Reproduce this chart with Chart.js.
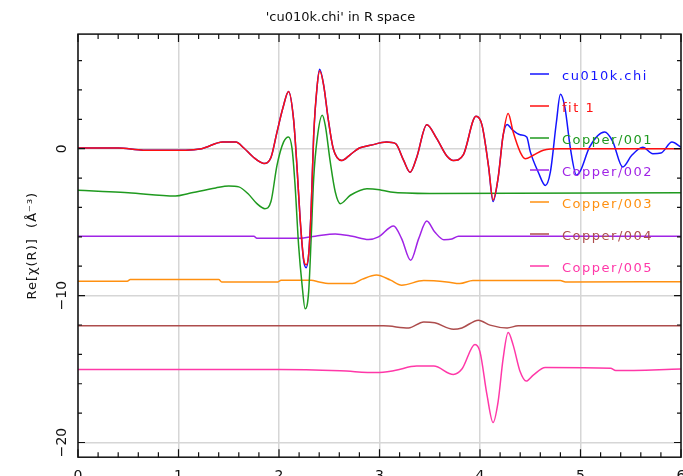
<!DOCTYPE html>
<html>
<head>
<meta charset="utf-8">
<script src="https://cdn.jsdelivr.net/npm/chart.js@4/dist/chart.umd.min.js"></script>
<style>
  html, body { margin: 0; padding: 0; background: #fff; }
  #wrap { width: 683px; height: 476px; }
</style>
</head>
<body>
<div id="wrap"><canvas id="rspace"></canvas></div>
<script>
// series labels + colours
var seriesNames = ['cu010k.chi', 'fit 1', 'Copper/001', 'Copper/002', 'Copper/003', 'Copper/004', 'Copper/005'];
var seriesColors = ['#1414ff', '#ff1010', '#1f9a1f', '#a024e6', '#ff9010', '#ad4d4d', '#ff38a8'];

// data, R in Angstrom
var dataR = [0, 0.4, 0.65, 1.07, 1.23, 1.44, 1.57, 1.65, 1.74, 1.85, 1.92, 1.98, 2.04, 2.095, 2.145, 2.18, 2.21, 2.245, 2.27, 2.295, 2.32, 2.345, 2.38, 2.405, 2.445, 2.49, 2.54, 2.625, 2.71, 2.8, 2.91, 3.07, 3.16, 3.24, 3.305, 3.37, 3.47, 3.57, 3.67, 3.735, 3.835, 3.96, 4.02, 4.085, 4.13, 4.18, 4.23, 4.27, 4.32, 4.4, 4.465, 4.5, 4.58, 4.65, 4.7, 4.76, 4.8, 4.845, 4.9, 4.96, 5.0, 5.09, 5.24, 5.32, 5.42, 5.51, 5.62, 5.72, 5.8, 5.91, 6];
var dataY = [0.05, 0.05, -0.1, -0.1, 0, 0.45, 0.45, 0.05, -0.55, -1.0, -0.6, 1.13, 2.8, 3.9, 2.0, -1.36, -4.76, -7.6, -8.1, -7.2, -4.1, 0.9, 4.3, 5.4, 4.3, 2.0, 0, -0.8, -0.4, 0.05, 0.23, 0.45, 0.34, -0.8, -1.6, -0.6, 1.63, 0.68, -0.5, -0.8, -0.4, 2.2, 1.6, -1.2, -3.6, -2.0, 0.9, 1.65, 1.3, 0.95, 0.8, -0.2, -1.6, -2.5, -1.6, 1.8, 3.7, 2.8, 0, -1.8, -1.5, 0.1, 1.13, 0.5, -1.25, -0.45, 0.1, -0.34, -0.3, 0.45, 0.1];

var fitR = [0, 0.4, 0.65, 1.07, 1.23, 1.44, 1.57, 1.65, 1.74, 1.85, 1.92, 1.98, 2.04, 2.095, 2.145, 2.18, 2.21, 2.245, 2.27, 2.295, 2.32, 2.345, 2.38, 2.405, 2.445, 2.49, 2.54, 2.625, 2.71, 2.8, 2.91, 3.07, 3.16, 3.24, 3.305, 3.37, 3.47, 3.57, 3.67, 3.735, 3.835, 3.96, 4.02, 4.085, 4.13, 4.18, 4.23, 4.28, 4.33, 4.4, 4.45, 4.53, 4.63, 4.8, 6];
var fitY = [0.05, 0.05, -0.1, -0.1, 0, 0.45, 0.45, 0.05, -0.55, -1.0, -0.6, 1.13, 2.8, 3.9, 2.0, -1.36, -4.76, -7.5, -7.9, -7.2, -4.1, 0.9, 4.3, 5.3, 4.3, 2.0, 0, -0.8, -0.4, 0.05, 0.23, 0.45, 0.34, -0.8, -1.6, -0.6, 1.63, 0.68, -0.5, -0.8, -0.4, 2.2, 1.6, -1.2, -3.5, -2.0, 0.9, 2.4, 1.13, -0.23, -0.68, -0.45, -0.1, 0, 0];

var p1R = [0, 0.2, 0.5, 0.97, 1.1, 1.37, 1.5, 1.6, 1.69, 1.78, 1.86, 1.92, 1.98, 2.045, 2.095, 2.13, 2.16, 2.195, 2.23, 2.26, 2.295, 2.32, 2.345, 2.38, 2.43, 2.46, 2.51, 2.56, 2.61, 2.71, 2.875, 3.0, 3.11, 3.5, 6];
var p1Y = [-2.83, -2.9, -3.0, -3.22, -3.05, -2.67, -2.54, -2.6, -3.05, -3.74, -4.08, -3.6, -1.13, 0.45, 0.8, 0, -2.5, -6.57, -9.3, -10.9, -9.75, -6.1, -2.04, 0.68, 2.27, 1.6, -0.9, -2.95, -3.74, -3.17, -2.72, -2.79, -2.95, -3.05, -3.0];

var p2R = [0, 1.75, 1.78, 2.2, 2.36, 2.56, 2.73, 2.89, 2.99, 3.14, 3.22, 3.31, 3.39, 3.47, 3.55, 3.64, 3.72, 3.785, 6];
var p2Y = [-5.96, -5.96, -6.1, -6.1, -5.96, -5.8, -5.96, -6.18, -6.0, -5.26, -6.12, -7.6, -6.12, -4.92, -5.67, -6.19, -6.15, -5.96, -5.96];

var p3R = [0, 0.49, 0.52, 1.4, 1.43, 1.99, 2.02, 2.32, 2.4, 2.49, 2.73, 2.83, 2.97, 3.11, 3.22, 3.44, 3.67, 3.8, 3.93, 4.8, 4.85, 6];
var p3Y = [-9.02, -9.02, -8.91, -8.91, -9.07, -9.07, -8.95, -8.95, -9.07, -9.18, -9.18, -8.88, -8.6, -8.95, -9.29, -8.98, -9.07, -9.18, -8.98, -8.98, -9.07, -9.05];

var p4R = [0, 3.04, 3.29, 3.44, 3.55, 3.735, 3.82, 3.985, 4.1, 4.27, 4.38, 6];
var p4Y = [-12.06, -12.06, -12.2, -11.79, -11.85, -12.29, -12.2, -11.67, -12.01, -12.2, -12.06, -12.06];

var p5R = [0, 2.0, 2.61, 2.97, 3.15, 3.37, 3.54, 3.735, 3.82, 3.95, 4.0, 4.07, 4.13, 4.18, 4.23, 4.28, 4.33, 4.4, 4.46, 4.53, 4.65, 5.3, 5.35, 6];
var p5Y = [-15.03, -15.03, -15.12, -15.24, -15.1, -14.8, -14.8, -15.37, -15.0, -13.33, -13.83, -16.78, -18.64, -17.23, -14.29, -12.52, -13.37, -15.19, -15.82, -15.41, -14.9, -14.95, -15.1, -15.0];

var yTickVals = [0, -10, -20];

function pts(xs, ys) {
  return xs.map(function (x, i) { return { x: x, y: ys[i] }; });
}

var allR = [dataR, fitR, p1R, p2R, p3R, p4R, p5R];
var allY = [dataY, fitY, p1Y, p2Y, p3Y, p4Y, p5Y];
var drawOrder = [1, 0, 2, 3, 4, 5, 6];

var datasets = seriesNames.map(function (name, i) {
  return {
    label: name,
    data: pts(allR[i], allY[i]),
    borderColor: seriesColors[i],
    backgroundColor: seriesColors[i],
    borderWidth: 1.5,
    pointRadius: 0,
    fill: false,
    cubicInterpolationMode: 'monotone',
    order: drawOrder[i]
  };
});

var FONT = '"DejaVu Sans", sans-serif';

// frame, inward ticks, rotated y labels, legend
var decor = {
  id: 'decor',
  afterDatasetsDraw: function (chart) {
    var ctx = chart.ctx, a = chart.chartArea;
    var xs = chart.scales.x, ys = chart.scales.y;
    ctx.save();
    ctx.strokeStyle = '#111';
    ctx.lineWidth = 1.5;
    ctx.strokeRect(a.left, a.top, a.right - a.left, a.bottom - a.top);
    ctx.lineWidth = 1.2;
    ctx.beginPath();
    for (var k = 0; k <= 30; k++) {
      var v = k * 0.2;
      var px = xs.getPixelForValue(v);
      var len = (k % 5 === 0) ? 8 : 5;
      ctx.moveTo(px, a.bottom); ctx.lineTo(px, a.bottom - len);
      ctx.moveTo(px, a.top); ctx.lineTo(px, a.top + len);
    }
    for (var t = -20; t <= 6; t += 2) {
      var py = ys.getPixelForValue(t);
      var l2 = (t % 10 === 0) ? 7 : 4;
      ctx.moveTo(a.left, py); ctx.lineTo(a.left + l2, py);
      ctx.moveTo(a.right, py); ctx.lineTo(a.right - l2, py);
    }
    ctx.stroke();

    // y tick labels, rotated
    ctx.fillStyle = '#111';
    ctx.font = '14px ' + FONT;
    ctx.textAlign = 'center';
    ctx.textBaseline = 'middle';
    yTickVals.forEach(function (v) {
      ctx.save();
      ctx.translate(62, ys.getPixelForValue(v));
      ctx.rotate(-Math.PI / 2);
      ctx.fillText(v === 0 ? '0' : '\u2212' + Math.abs(v), 0, 0);
      ctx.restore();
    });
    // y axis title
    ctx.save();
    ctx.translate(33, (a.top + a.bottom) / 2);
    ctx.rotate(-Math.PI / 2);
    ctx.font = '13px ' + FONT;
    ctx.letterSpacing = '1px';
    ctx.fillText('Re[\u03c7(R)]  (\u00c5\u207b\u00b3)', 0, 0);
    ctx.restore();

    // legend inside plot
    ctx.font = '13px ' + FONT;
    ctx.letterSpacing = '1.5px';
    ctx.textAlign = 'left';
    chart.data.datasets.forEach(function (ds, i) {
      var y = 77 + i * 32;
      ctx.strokeStyle = ds.borderColor;
      ctx.lineWidth = 1.5;
      ctx.beginPath();
      ctx.moveTo(530, y - 3); ctx.lineTo(549, y - 3);
      ctx.stroke();
      ctx.fillStyle = ds.borderColor;
      ctx.fillText(ds.label, 562, y);
    });
    ctx.restore();
  }
};

var rChart = new Chart(document.getElementById('rspace'), {
  type: 'line',
  data: { datasets: datasets },
  plugins: [decor],
  options: {
    responsive: true,
    maintainAspectRatio: false,
    animation: false,
    layout: { padding: { left: 0, right: 2, top: 0, bottom: -20 } },
    plugins: {
      legend: { display: false },
      tooltip: { enabled: false },
      title: {
        display: true,
        text: "'cu010k.chi' in R space",
        color: '#111',
        font: { family: FONT, size: 13, weight: 'normal' },
        padding: { top: 10, bottom: 8.5 }
      }
    },
    scales: {
      x: {
        type: 'linear',
        min: 0,
        max: 6,
        ticks: { stepSize: 1, color: '#111', padding: 11, font: { family: FONT, size: 14 } },
        grid: { color: '#d6d6d6', lineWidth: 1.5, drawTicks: false },
        border: { display: false },
        afterFit: function (s) { s.paddingRight = 0; s.paddingLeft = 0; }
      },
      y: {
        min: -21,
        max: 7.8,
        ticks: { stepSize: 10, includeBounds: false, display: false },
        grid: { color: '#d6d6d6', lineWidth: 1.5, drawTicks: false },
        border: { display: false },
        afterFit: function (s) { s.width = 78; }
      }
    }
  }
});
</script>
</body>
</html>
